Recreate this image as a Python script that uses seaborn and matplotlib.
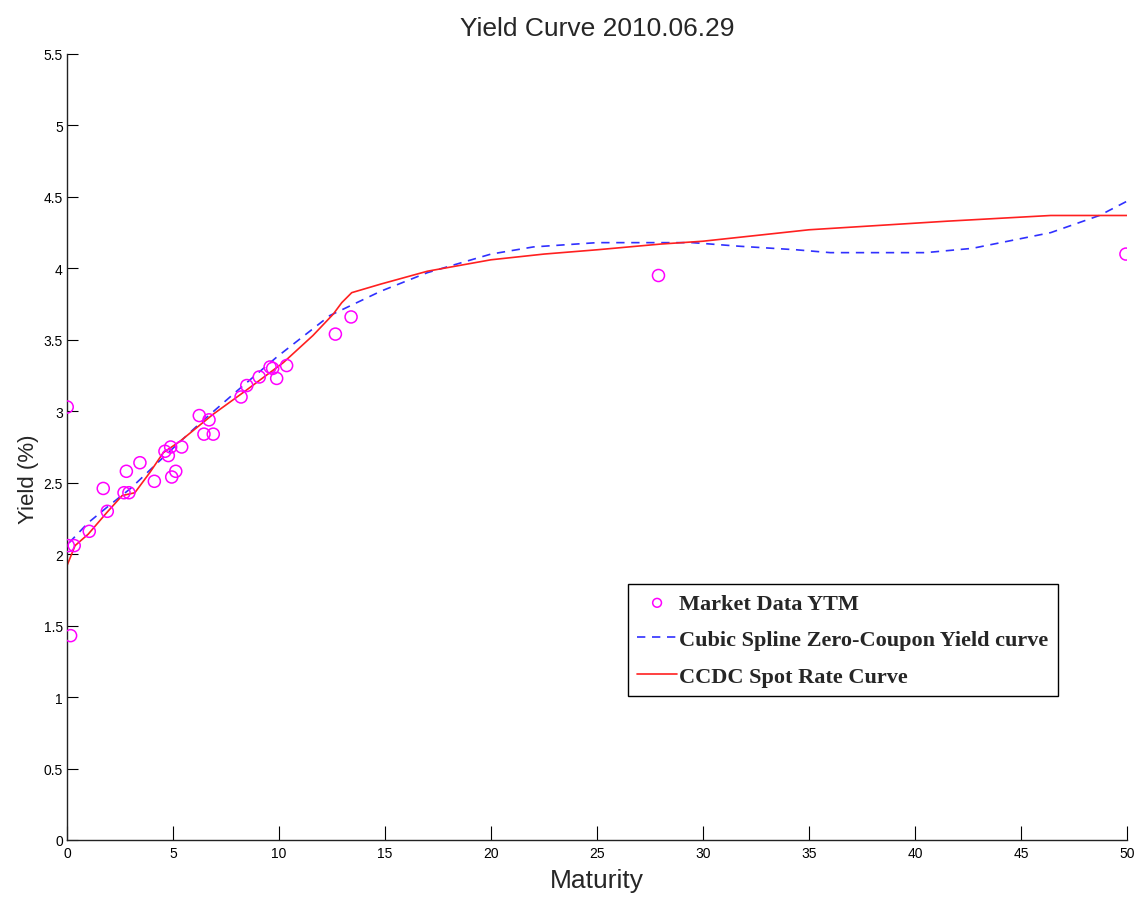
import matplotlib
matplotlib.use("Agg")
import matplotlib.pyplot as plt
import seaborn as sns
import pandas as pd
from matplotlib import font_manager

# ---- data ----
mkt_maturity = [0.01, 0.06, 0.17, 0.34, 1.05, 1.71, 1.90, 2.69, 2.80, 2.92, 3.44, 4.12,
                4.62, 4.78, 4.89, 4.94, 5.13, 5.41, 6.24, 6.46, 6.70, 6.90, 8.21, 8.48,
                9.07, 9.58, 9.70, 9.89, 10.36, 12.66, 13.40, 27.9, 49.95]
mkt_ytm = [3.03, 2.06, 1.43, 2.06, 2.16, 2.46, 2.30, 2.43, 2.58, 2.43, 2.64, 2.51,
           2.72, 2.69, 2.75, 2.54, 2.58, 2.75, 2.97, 2.84, 2.94, 2.84, 3.10, 3.18,
           3.24, 3.31, 3.30, 3.23, 3.32, 3.54, 3.66, 3.95, 4.10]

spline_maturity = [0.1, 1.0, 1.9, 3.0, 4.7, 6.3, 8.0, 9.9, 12.4, 14.8, 17, 20, 22, 25,
                   29.5, 31.7, 34.4, 36, 40.5, 42.7, 46.4, 48.7, 50]
spline_yield = [2.08, 2.22, 2.33, 2.46, 2.70, 2.92, 3.14, 3.38, 3.67, 3.84, 3.97, 4.10,
                4.15, 4.18, 4.18, 4.155, 4.13, 4.11, 4.11, 4.14, 4.25, 4.37, 4.47]

ccdc_maturity = [0, 0.38, 1.0, 1.87, 2.6, 3.2, 3.9, 4.54, 5.33, 6.9, 8.3, 10.2, 11.6,
                 12.56, 12.96, 13.43, 14.8, 17, 20, 22.5, 25, 28, 30, 35, 41.5, 46.4, 50]
ccdc_yield = [1.92, 2.06, 2.14, 2.29, 2.41, 2.43, 2.57, 2.71, 2.79, 2.98, 3.13, 3.34, 3.53,
              3.68, 3.76, 3.83, 3.89, 3.98, 4.06, 4.10, 4.13, 4.17, 4.19, 4.27, 4.33, 4.37, 4.37]

x_ticks = [0, 5, 10, 15, 20, 25, 30, 35, 40, 45, 50]
y_ticks = [0, 0.5, 1, 1.5, 2, 2.5, 3, 3.5, 4, 4.5, 5, 5.5]
y_tick_labels = ["0", "0.5", "1", "1.5", "2", "2.5", "3", "3.5", "4", "4.5", "5", "5.5"]

# ---- style ----
sns.set_style("white")
names = {f.name for f in font_manager.fontManager.ttflist}
narrow = "Liberation Sans Narrow" if "Liberation Sans Narrow" in names else "Liberation Sans"
plt.rcParams["font.family"] = [narrow, "DejaVu Sans"]

fig = plt.figure(figsize=(11.41, 9.03), dpi=100)
ax = fig.add_axes([67 / 1141, 62 / 903, 1060 / 1141, 786 / 903])

mkt = pd.DataFrame({"Maturity": mkt_maturity, "Yield": mkt_ytm})
spl = pd.DataFrame({"Maturity": spline_maturity, "Yield": spline_yield})
ccdc = pd.DataFrame({"Maturity": ccdc_maturity, "Yield": ccdc_yield})

sns.scatterplot(data=mkt, x="Maturity", y="Yield", ax=ax, marker="o", s=75,
                facecolors="none", edgecolor="#FF00FF", linewidth=1.1,
                label="Market Data YTM", zorder=3)
sns.lineplot(data=spl, x="Maturity", y="Yield", ax=ax, color="#3030FF",
             linestyle=(0, (5, 4)), linewidth=1.2, sort=False, estimator=None,
             label="Cubic Spline Zero-Coupon Yield curve", zorder=2)
sns.lineplot(data=ccdc, x="Maturity", y="Yield", ax=ax, color="#FF2020",
             linewidth=1.2, sort=False, estimator=None,
             label="CCDC Spot Rate Curve", zorder=2)

ax.set_xlim(0, 50)
ax.set_ylim(0, 5.5)
ax.set_xticks(x_ticks)
ax.set_xticklabels([str(t) for t in x_ticks], fontsize=10)
ax.set_yticks(y_ticks)
ax.set_yticklabels(y_tick_labels, fontsize=10)
ax.tick_params(axis="x", bottom=True, direction="in", length=10, width=0.8,
               colors="black", pad=4)
ax.tick_params(axis="y", left=True, direction="in", length=8, width=0.8,
               colors="black", pad=3)
for s in ["top", "right"]:
    ax.spines[s].set_visible(False)
for s in ["left", "bottom"]:
    ax.spines[s].set_color("#222222")
    ax.spines[s].set_linewidth(1.0)

ax.set_title("Yield Curve 2010.06.29", fontsize=19, pad=14)
ax.set_xlabel("Maturity", fontsize=19, labelpad=6)
ax.set_ylabel("Yield (%)", fontsize=16)
ax.yaxis.set_label_coords(-0.026, 0.46)

leg = ax.legend(loc="upper left", bbox_to_anchor=(0.529, 0.326), borderaxespad=0,
                frameon=True, fancybox=False, framealpha=1, edgecolor="black",
                borderpad=0.42, handlelength=1.8, handletextpad=0.1, labelspacing=0.72,
                prop={"family": "Liberation Serif", "weight": "bold", "size": 16})
leg.get_frame().set_linewidth(1.0)
for h in leg.legend_handles:
    try:
        h.set_sizes([40])
    except Exception:
        pass

fig.savefig("out.png", dpi=100, facecolor="white")
